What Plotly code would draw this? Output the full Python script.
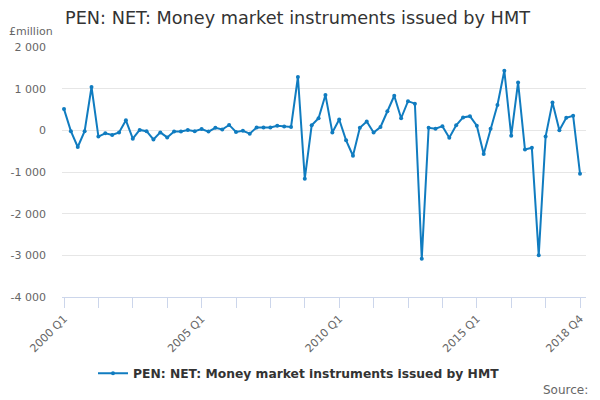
import plotly.graph_objects as go

quarters = [f"{y} Q{q}" for y in range(2000, 2019) for q in range(1, 5)]

values = [
    510, -20, -400, -20, 1040, -150, -70, -110, -50, 240,
    -200, 10, -20, -220, -50, -170, -30, -30, 10, -20,
    30, -30, 60, 20, 130, -40, -10, -80, 70, 70,
    70, 110, 90, 80, 1280, -1160, 120, 290, 850, -50,
    260, -240, -610, 60, 210, -50, 80, 460, 830, 290,
    700, 640, -3080, 60, 40, 100, -180, 120, 310, 340,
    110, -570, 40, 610, 1430, -130, 1150, -460, -420, -3000,
    -150, 670, 0, 300, 350, -1040,
]

ytick_vals = [2000, 1000, 0, -1000, -2000, -3000, -4000]
ytick_text = ["2 000", "1 000", "0", "-1 000", "-2 000", "-3 000", "-4 000"]

xtick_idx = list(range(0, 76, 5))
xtick_labelled = {0: "2000 Q1", 20: "2005 Q1", 40: "2010 Q1", 60: "2015 Q1", 75: "2018 Q4"}

series_name = "PEN: NET: Money market instruments issued by HMT"
color = "#107cc0"
FONT = "DejaVu Sans, sans-serif"

fig = go.Figure()
fig.add_trace(go.Scatter(
    x=quarters, y=values, mode="lines+markers", name=series_name,
    line=dict(color=color, width=2), marker=dict(color=color, size=4),
))

fig.update_layout(
    width=600, height=400,
    margin=dict(l=62, r=14, t=47, b=103),
    paper_bgcolor="white", plot_bgcolor="white",
    font=dict(family=FONT, color="#666666"),
    title=dict(text=series_name, x=65 / 600, xref="container", xanchor="left",
               y=1 - 18 / 400, yref="container", yanchor="middle",
               font=dict(size=17.7, color="#333333")),
    showlegend=True,
    legend=dict(orientation="h", x=0.5 - 25 / 524, xanchor="center", y=-0.305, yanchor="middle",
                font=dict(size=12.3, color="#333333", weight="bold"), itemwidth=30),
    xaxis=dict(
        type="category", range=[-0.29, 75.87],
        tickmode="array", tickvals=[quarters[i] for i in xtick_idx],
        ticktext=[xtick_labelled.get(i, "") for i in xtick_idx],
        tickangle=-45, ticks="outside", ticklen=10, tickcolor="#ccd6eb",
        showline=True, linecolor="#ccd6eb", linewidth=1,
        showgrid=False, tickfont=dict(size=11, color="#666666"), fixedrange=True,
    ),
    yaxis=dict(
        range=[-4000, 2000], tickmode="array", tickvals=ytick_vals, ticktext=ytick_text,
        showgrid=True, gridcolor="#e6e6e6", zeroline=False, showline=False,
        tickfont=dict(size=11, color="#666666"), ticks="", ticklabelstandoff=15,
    ),
)
fig.add_annotation(text="£million", xref="paper", yref="paper", x=-(62 - 7) / 524, y=1 + 15 / 250,
                   xanchor="left", yanchor="middle", showarrow=False,
                   font=dict(size=11, color="#666666"))
fig.add_annotation(text="Source:", xref="paper", yref="paper", x=1 + 4 / 524, y=-(390 - 297) / 250,
                   xanchor="right", yanchor="middle", showarrow=False,
                   font=dict(size=12, color="#666666"))

fig.write_html("out.html", config={"displayModeBar": False},
               post_script="document.body.style.margin='0';")
